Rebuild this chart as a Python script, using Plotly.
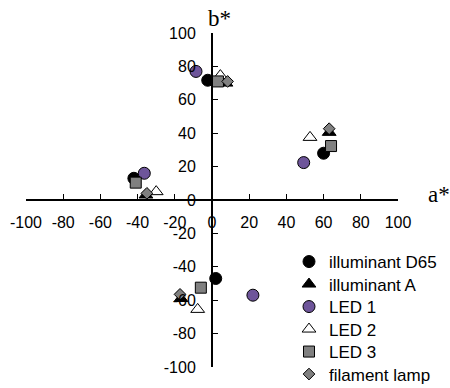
import plotly.graph_objects as go

# Data (a*, b*)
d65_a = [-42.0, -2.3, 60.0, 2.0]
d65_b = [13.0, 71.7, 28.0, -47.0]
illA_a = [-35.5, 7.5, 63.0, -16.7]
illA_b = [3.0, 70.0, 40.5, -59.0]
led1_a = [-36.4, -8.6, 49.3, 22.0]
led1_b = [16.0, 77.0, 22.4, -57.0]
led2_a = [-30.0, 4.5, 52.7, -7.7]
led2_b = [5.0, 74.5, 37.5, -65.5]
led3_a = [-41.0, 3.2, 64.0, -6.0]
led3_b = [10.4, 71.0, 32.3, -52.5]
fil_a = [-35.0, 8.4, 63.0, -17.2]
fil_b = [4.0, 71.0, 42.7, -56.5]

tick_vals = [-100, -80, -60, -40, -20, 0, 20, 40, 60, 80, 100]
tick_text = [str(v) for v in tick_vals]

series = [
    ("illuminant D65", d65_a, d65_b, "circle", 12, "black"),
    ("illuminant A", illA_a, illA_b, "triangle-up", 12, "black"),
    ("LED 1", led1_a, led1_b, "circle", 12, "#6E559A"),
    ("LED 2", led2_a, led2_b, "triangle-up", 12, "white"),
    ("LED 3", led3_a, led3_b, "square", 11, "#808080"),
    ("filament lamp", fil_a, fil_b, "diamond", 9, "#808080"),
]

# plot area: left 26, width 372, top 33, height 334 (pixels)
PL, PW, PT, PH = 26, 372, 33, 334
legend_font = dict(family="Liberation Sans, Arial, sans-serif", size=17, color="black")
row_y = [262, 284.5, 307, 329.5, 352, 374.5]   # legend row centres (pixels)
legend_left = 289

fig = go.Figure()
legends = {}
for i, (name, xs, ys, sym, size, col) in enumerate(series):
    key = "legend" if i == 0 else f"legend{i + 1}"
    fig.add_trace(go.Scatter(
        x=xs, y=ys, mode="markers", name=name,
        marker=dict(symbol=sym, size=size, color=col,
                    line=dict(color="black", width=1)),
        cliponaxis=False, legend=key,
    ))
    legends[key] = dict(
        xref="paper", yref="paper",
        x=(legend_left - PL) / PW, y=1 - (row_y[i] - PT) / PH,
        xanchor="left", yanchor="middle",
        font=legend_font, bgcolor="rgba(0,0,0,0)", borderwidth=0,
    )

axis_font = dict(family="Liberation Sans, Arial, sans-serif", size=16, color="black")
common = dict(
    range=[-100, 100], domain=[0, 1], anchor="free", position=0.5,
    showline=True, linecolor="black", linewidth=2,
    ticks="inside", ticklen=5, tickwidth=1, tickcolor="black",
    tickvals=tick_vals, ticktext=tick_text, tickangle=0,
    showgrid=False, zeroline=False, tickfont=axis_font, automargin=False,
)
fig.update_layout(
    width=450, height=388,
    margin=dict(l=PL, r=450 - PL - PW, t=PT, b=388 - PT - PH, autoexpand=False),
    paper_bgcolor="white", plot_bgcolor="white",
    xaxis=dict(**common, ticklabelstandoff=8),
    yaxis=dict(**common, ticklabelstandoff=12),
    showlegend=True,
    annotations=[
        dict(text="b*", xref="x", yref="paper", x=4, y=1.0, yanchor="bottom",
             xanchor="center", showarrow=False,
             font=dict(family="Liberation Serif, Times New Roman, serif", size=23, color="black")),
        dict(text="a*", xref="paper", yref="y", x=1.0, y=3, xanchor="left",
             xshift=28, yanchor="middle", showarrow=False,
             font=dict(family="Liberation Serif, Times New Roman, serif", size=23, color="black")),
    ],
)
fig.update_layout(**legends)

fig.write_html("out.html")
